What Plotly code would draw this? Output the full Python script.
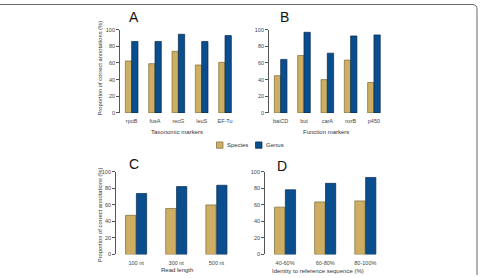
import plotly.graph_objects as go

W, H = 480, 278

series = ["Species", "Genus"]
colors = {"Species": "#CDAE62", "Genus": "#0B4E8E"}
edges = {"Species": "#7D6A38", "Genus": "#05294D"}

tax_markers = ["rpoB", "fusA", "recG", "leuS", "EF-Tu"]
tax_species = [62.4, 59.2, 74.1, 57.6, 60.8]
tax_genus = [85.9, 85.9, 94.5, 85.9, 92.9]

fun_markers = ["baiCD", "but", "carA", "nxrB", "p450"]
fun_species = [44.7, 69.0, 40.0, 63.5, 36.5]
fun_genus = [64.3, 96.9, 71.8, 92.5, 93.7]

read_lengths = ["100 nt", "300 nt", "500 nt"]
read_species = [47.2, 55.5, 59.8]
read_genus = [73.6, 81.9, 83.5]

identity = ["40-60%", "60-80%", "80-100%"]
ident_species = [57.1, 63.4, 64.6]
ident_genus = [78.0, 85.8, 92.9]

ytick_vals = [0, 20, 40, 60, 80, 100]

def px(x):
    return x / W

def py(y):
    return 1 - y / H

FONT = "Liberation Sans, Arial, sans-serif"

fig = go.Figure()

panels = [
    ("x", "y", tax_markers, tax_species, tax_genus),
    ("x2", "y2", fun_markers, fun_species, fun_genus),
    ("x3", "y3", read_lengths, read_species, read_genus),
    ("x4", "y4", identity, ident_species, ident_genus),
]
for xa, ya, cats, sp, ge in panels:
    for name, vals in zip(series, [sp, ge]):
        fig.add_trace(go.Bar(
            x=cats, y=vals, name=name, xaxis=xa, yaxis=ya,
            marker=dict(color=colors[name], line=dict(color=edges[name], width=0.7)),
            showlegend=False,
        ))

domains = {
    "1": ([px(120), px(236.7)], [py(112.3), py(27.3)]),
    "2": ([px(269), px(385.6)], [py(112.3), py(27.3)]),
    "3": ([px(116), px(236.5)], [py(257), py(172.3)]),
    "4": ([px(265), px(385.4)], [py(257), py(172.3)]),
}

layout_axes = {}
for i, (k, (xd, yd)) in enumerate(domains.items()):
    suffix = "" if k == "1" else k
    layout_axes["xaxis" + suffix] = dict(
        domain=xd, anchor="y" + suffix, showline=False, showgrid=False,
        ticks="outside", ticklen=3, tickcolor="rgba(0,0,0,0)",
        tickfont=dict(size=5.5, color="#444", family=FONT), zeroline=False,
        fixedrange=True,
    )
    layout_axes["yaxis" + suffix] = dict(
        domain=yd, anchor="x" + suffix, range=[0, 100], tickvals=ytick_vals,
        showline=True, linecolor="#555", linewidth=0.8, showgrid=False,
        ticks="outside", ticklen=3, tickwidth=0.8, tickcolor="#555",
        tickfont=dict(size=5.5, color="#444", family=FONT), zeroline=False,
        fixedrange=True,
    )

fig.update_layout(
    width=W, height=H, margin=dict(l=0, r=0, t=0, b=0),
    paper_bgcolor="white", plot_bgcolor="white",
    barmode="group", bargap=0.46, bargroupgap=0,
    font=dict(family=FONT),
    **layout_axes,
)
# wider gaps for bottom panels
fig.update_traces(selector=dict(xaxis="x3"), width=None)

ann = []
def text(x, y, s, size, color="#333", angle=0, xanchor="center"):
    ann.append(dict(x=px(x), y=py(y), xref="paper", yref="paper", text=s,
                    showarrow=False, textangle=angle, xanchor=xanchor, yanchor="middle",
                    font=dict(size=size, color=color, family=FONT)))

for letter, x, y in [("A", 134, 14), ("B", 284, 14), ("C", 134, 165), ("D", 282, 167)]:
    text(x, y, letter, 14, "#111")

ytitle = "Proportion of correct annotations (%)"
text(100, 67, ytitle, 5.8, angle=-90)
text(100, 217, ytitle, 5.8, angle=-90)
text(177, 132, "Taxonomic markers", 6)
text(326, 131.5, "Function markers", 6)
text(177, 273, "Read length", 6)
text(318, 274, "Identity to reference sequence (%)", 6)

# legend
text(225, 145, series[0], 6, xanchor="left")
text(264, 145, series[1], 6, xanchor="left")

shapes = [
    dict(type="rect", xref="paper", yref="paper", x0=px(216.5), x1=px(223), y0=py(148.5), y1=py(142),
         fillcolor=colors["Species"], line=dict(color=edges["Species"], width=0.7)),
    dict(type="rect", xref="paper", yref="paper", x0=px(255.5), x1=px(262), y0=py(148.5), y1=py(142),
         fillcolor=colors["Genus"], line=dict(color=edges["Genus"], width=0.7)),
    dict(type="path", xref="paper", yref="paper",
         path=f"M 0,{py(1.5)} L {px(472)},{py(1.5)} Q {px(477)},{py(1.5)} {px(477)},{py(6.5)} L {px(477)},{py(278)}",
         line=dict(color="#666", width=1)),
]

fig.update_layout(annotations=ann, shapes=shapes)

# bottom panels use slightly wider bargap via explicit width computation is not needed;
# plotly bargap is global, so adjust via offsetgroup-free width fraction
for tr in fig.data:
    if tr.xaxis in ("x3", "x4"):
        tr.width = (1 - 0.49) / 2
        tr.offset = None

fig.write_html("out.html")
